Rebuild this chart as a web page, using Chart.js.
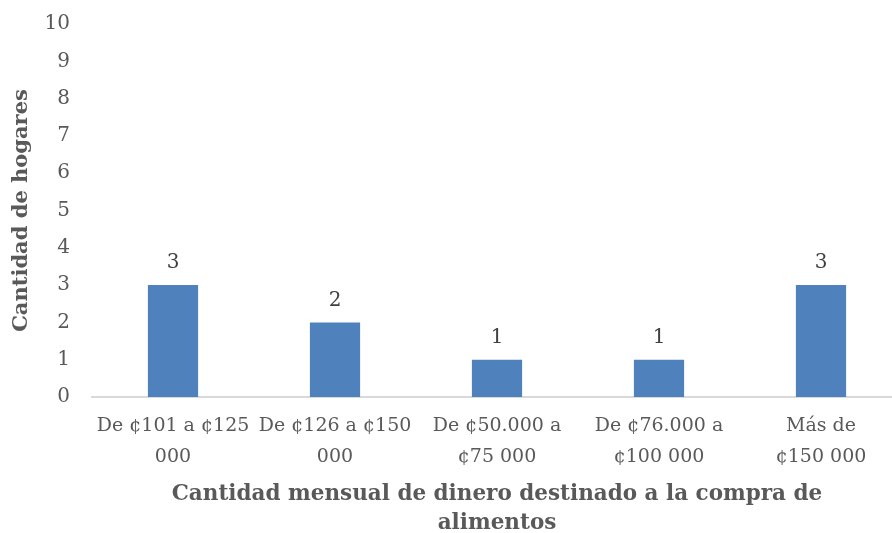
<!DOCTYPE html>
<html><head><meta charset="utf-8">
<script src="https://cdn.jsdelivr.net/npm/chart.js@4/dist/chart.umd.min.js"></script>
<style>html,body{margin:0;padding:0;overflow:hidden;background:#fff}#wrap{width:902px;height:533px;overflow:hidden}</style>
</head><body><div id="wrap"><canvas id="c" width="902" height="538"></canvas></div>
<script>
const categories = [["De ¢101 a ¢125","000"],["De ¢126 a ¢150","000"],["De ¢50.000 a","¢75 000"],["De ¢76.000 a","¢100 000"],["Más de","¢150 000"]];
const values = [3, 2, 1, 1, 3];
const yTicks = [0,1,2,3,4,5,6,7,8,9,10];
const FONT = "'DejaVu Serif', serif";

const valueLabels = {
  id: 'valueLabels',
  afterDatasetsDraw(chart) {
    const ctx = chart.ctx;
    const meta = chart.getDatasetMeta(0);
    ctx.save();
    ctx.font = "20px " + FONT;
    ctx.fillStyle = '#404040';
    ctx.textAlign = 'center';
    ctx.textBaseline = 'bottom';
    meta.data.forEach((bar, i) => {
      ctx.fillText(String(values[i]), bar.x, bar.y - 12);
    });
    ctx.restore();
  }
};

new Chart(document.getElementById('c'), {
  type: 'bar',
  data: { labels: categories, datasets: [{ data: values, backgroundColor: '#4f81bd', borderWidth: 0, barPercentage: 0.62, categoryPercentage: 0.5 }] },
  options: {
    responsive: false, animation: false,
    layout: { padding: { top: 24, right: 0, left: 0, bottom: 0 } },
    plugins: { legend: { display: false }, tooltip: { enabled: false } },
    scales: {
      y: {
        min: 0, max: 10,
        afterBuildTicks(s) { s.ticks = yTicks.map(v => ({ value: v })); },
        afterFit(s) { s.width = 92; s.paddingTop = 0; s.paddingBottom = 0; },
        grid: { display: false, drawTicks: false },
        border: { display: false },
        ticks: { padding: 22, color: '#595959', font: { family: FONT, size: 20 } },
        title: { display: true, text: 'Cantidad de hogares', color: '#595959', font: { family: FONT, size: 21, weight: 'bold' }, padding: { top: 9, bottom: 0 } }
      },
      x: {
        afterFit(s) { s.height = 141; s.paddingLeft = 0; s.paddingRight = 0; },
        grid: { display: false, drawTicks: false },
        border: { display: true, color: '#d9d9d9', width: 2 },
        ticks: { padding: 14, color: '#595959', maxRotation: 0, autoSkip: false, font: { family: FONT, size: 19, lineHeight: 1.6 } },
        title: { display: true, text: ['Cantidad mensual de dinero destinado a la compra de', 'alimentos'], color: '#595959', font: { family: FONT, size: 21.5, weight: 'bold', lineHeight: 1.35 }, padding: { top: 0, bottom: 0 } }
      }
    }
  },
  plugins: [valueLabels]
});
</script></body></html>
